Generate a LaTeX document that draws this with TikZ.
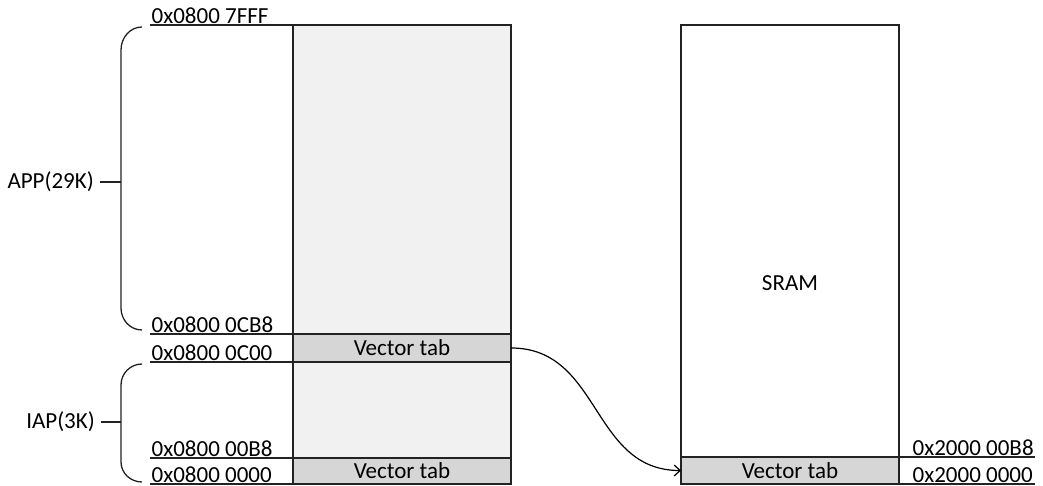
\documentclass[tikz,border=0pt]{standalone}
\usepackage{fontspec}
\setmainfont{Carlito}
\usetikzlibrary{arrows.meta}
\definecolor{lightfill}{HTML}{F1F1F1}
\definecolor{tabfill}{HTML}{D6D6D6}
\definecolor{edge}{HTML}{222222}
\tikzset{
  memblock/.style={draw=edge, line width=1.6pt, minimum width=218pt, inner sep=0pt, outer sep=0pt},
  vtab/.style={memblock, fill=tabfill, font=\fontsize{23}{26}\selectfont, text=black},
  addr/.style={anchor=south west, inner sep=1.5pt, font=\fontsize{23}{26}\selectfont, text=black},
  rangelbl/.style={anchor=east, inner ysep=1pt, inner xsep=6pt, font=\fontsize{23}{26}\selectfont, text=black},
  uline/.style={draw=edge, line width=1.2pt},
  brace/.style={draw=edge, line width=1.3pt},
}
\begin{document}
\begin{tikzpicture}[x=1pt,y=-1pt]
\useasboundingbox (0,0) rectangle (1043,486);
% underline lines
\coordinate (l1a) at (150,25);  \coordinate (l1b) at (511,25);
\coordinate (l2a) at (150,334); \coordinate (l2b) at (511,334);
\coordinate (l3a) at (150,362); \coordinate (l3b) at (511,362);
\coordinate (l4a) at (150,458); \coordinate (l4b) at (511,458);
\coordinate (l5a) at (150,484); \coordinate (l5b) at (511,484);
\coordinate (r1a) at (681,457); \coordinate (r1b) at (1035,457);
\coordinate (r2a) at (681,484); \coordinate (r2b) at (1035,484);
\foreach \p in {l1,l2,l3,l4,l5,r1,r2} \draw[uline] (\p a) -- (\p b);
% memory blocks
\node[memblock, fill=lightfill, minimum height=459pt] (flash) at (402,254.5) {};
\node[memblock, fill=white, minimum height=459pt] (sram) at (790,254.5) {};
\node[font=\fontsize{23}{26}\selectfont, text=black] (sramlbl) at (790,283) {SRAM};
\node[vtab, minimum height=28pt] (lvt) at (402,348) {Vector tab};
\node[vtab, minimum height=26pt] (lvt0) at (402,471) {Vector tab};
\node[vtab, minimum height=27pt] (rvt) at (790,470.5) {Vector tab};
% addresses
\node[addr] (a1) at (l1a) {0x0800 7FFF};
\node[addr] (a2) at (l2a) {0x0800 0CB8};
\node[addr] (a3) at (l3a) {0x0800 0C00};
\node[addr] (a4) at (l4a) {0x0800 00B8};
\node[addr] (a5) at (l5a) {0x0800 0000};
\node[addr] (b1) at (911,457) {0x2000 00B8};
\node[addr] (b2) at (911,484) {0x2000 0000};
% brackets
\draw[brace] (142,27) to[out=180,in=90] (121,50) -- (121,308) to[out=-90,in=180] (142,330);
\node[rangelbl] (app) at (100,182) {APP(29K)};
\draw[brace] (app.east) -- (121,182);
\draw[brace] (142,364) to[out=180,in=90] (121,385) -- (121,462) to[out=-90,in=180] (142,482);
\node[rangelbl] (iap) at (101,422) {IAP(3K)};
\draw[brace] (iap.east) -- (121,422);
% arrow
\draw[line width=1.2pt, draw=black, -{Straight Barb[length=6pt,width=11pt]}] (lvt.east) to[out=0,in=180,looseness=1.1] (rvt.west);
\end{tikzpicture}
\end{document}
